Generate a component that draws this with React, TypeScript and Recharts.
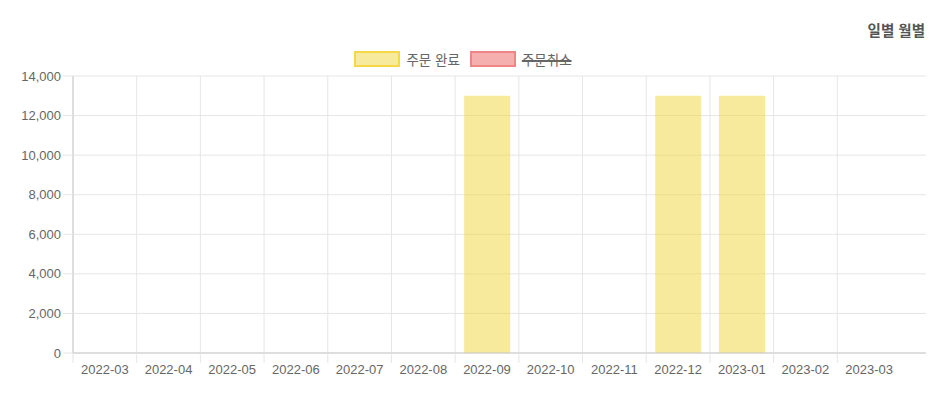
import React from 'react';
import { BarChart, Bar, XAxis, YAxis, CartesianGrid, Legend } from 'recharts';

const MONTHS = ['2022-03', '2022-04', '2022-05', '2022-06', '2022-07', '2022-08', '2022-09', '2022-10', '2022-11', '2022-12', '2023-01', '2023-02', '2023-03'];
const COMPLETED = [0, 0, 0, 0, 0, 0, 13000, 0, 0, 13000, 13000, 0, 0];
const CANCELED = [0, 0, 0, 0, 0, 0, 0, 0, 0, 0, 0, 0, 0];
const Y_TICKS = [0, 2000, 4000, 6000, 8000, 10000, 12000, 14000];

const SERIES = [
  { key: 'completed', name: '주문 완료', fill: 'rgba(240, 214, 60, 0.5)', border: '#f6d746', hidden: false },
  { key: 'canceled', name: '주문취소', fill: 'rgba(236, 96, 96, 0.5)', border: '#ef8585', hidden: true },
];

const data = MONTHS.map((m, i) => ({ month: m, completed: COMPLETED[i], canceled: CANCELED[i] }));

const FONT = "'Liberation Sans', Arial, 'Noto Sans CJK KR', sans-serif";
const GRID = '#e6e6e6';
const AXIS = '#c8c8c8';
const PAD_RIGHT = 25; // empty space after the last month

const MonthTick = (props: any) => {
  const { x, y, payload, width } = props;
  const step = ((width || 853) - PAD_RIGHT) / MONTHS.length;
  const left = x - step / 2;
  return (
    <g>
      <line x1={left} y1={y - 12} x2={left} y2={y - 2} stroke={GRID} />
      <text x={x} y={y} dy="0.71em" textAnchor="middle" fill="#666" fontSize={13} fontFamily={FONT}>
        {payload.value}
      </text>
    </g>
  );
};

const LegendContent = () => (
  <div style={{ display: 'flex', justifyContent: 'center', alignItems: 'center', fontFamily: FONT, fontSize: 13.5, color: '#666' }}>
    {SERIES.map(s => (
      <div key={s.key} style={{ display: 'flex', alignItems: 'center', marginRight: 10 }}>
        <span style={{ display: 'inline-block', width: 42, height: 12, background: s.fill, border: `2px solid ${s.border}`, marginRight: 6 }} />
        <span
          style={{
            textDecorationLine: s.hidden ? 'line-through' : 'none',
            textDecorationColor: '#666',
            textDecorationThickness: 2,
          }}
        >
          {s.name}
        </span>
      </div>
    ))}
  </div>
);

const App: React.FC = () => {
  return (
    <div style={{ position: 'relative', width: 920, height: 385 }}>
      <div style={{ position: 'absolute', right: 3, top: 11, fontFamily: FONT, fontSize: 14.5, fontWeight: 'bold', color: '#555' }}>
        일별 월별
      </div>
      <BarChart width={920} height={385} data={data} margin={{ top: 68, right: 2, left: 0, bottom: 0 }}>
        <CartesianGrid
          stroke={GRID}
          verticalCoordinatesGenerator={({ offset }: any) =>
            MONTHS.map((_, i) => offset.left + (i * (offset.width - PAD_RIGHT)) / MONTHS.length)
          }
        />
        <XAxis
          dataKey="month"
          axisLine={{ stroke: AXIS }}
          tickLine={false}
          tickSize={10}
          tickMargin={2}
          tick={<MonthTick />}
          interval={0}
          height={40}
          padding={{ left: 0, right: PAD_RIGHT }}
        />
        <YAxis
          domain={[0, 14000]}
          ticks={Y_TICKS}
          width={65}
          tickSize={10}
          tickMargin={2}
          axisLine={{ stroke: AXIS }}
          tickLine={{ stroke: GRID }}
          tick={{ fill: '#666', fontSize: 13, fontFamily: FONT }}
          tickFormatter={(v: number) => v.toLocaleString('en-US')}
        />
        <Legend
          verticalAlign="middle"
          align="center"
          layout="horizontal"
          content={<LegendContent />}
          wrapperStyle={{ top: 41, left: 0, width: 920 }}
        />
        <Bar dataKey="completed" name="주문 완료" fill={SERIES[0].fill} barSize={46} isAnimationActive={false} />
        <Bar dataKey="canceled" name="주문취소" fill={SERIES[1].fill} barSize={46} hide isAnimationActive={false} />
      </BarChart>
    </div>
  );
};

export default App;
